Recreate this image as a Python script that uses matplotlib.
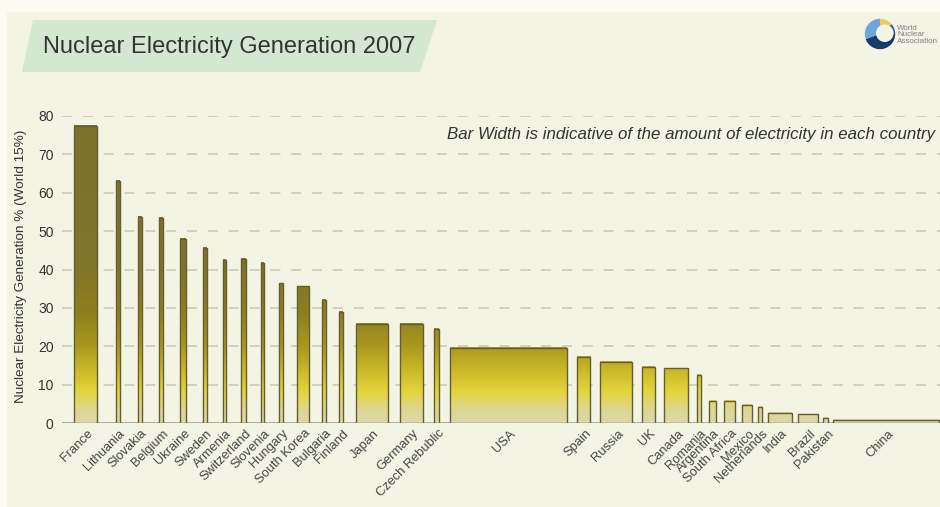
import numpy as np
import matplotlib
matplotlib.use('Agg')
import matplotlib.pyplot as plt
from matplotlib.colors import LinearSegmentedColormap, Normalize
from matplotlib.patches import Polygon, Rectangle, Wedge, Circle

plt.rcParams['font.family'] = ['Liberation Sans', 'DejaVu Sans']

# share of electricity from nuclear, 2007 (%)
countries = ['France', 'Lithuania', 'Slovakia', 'Belgium', 'Ukraine', 'Sweden',
             'Armenia', 'Switzerland', 'Slovenia', 'Hungary', 'South Korea',
             'Bulgaria', 'Finland', 'Japan', 'Germany', 'Czech Rebublic', 'USA',
             'Spain', 'Russia', 'UK', 'Canada', 'Romania', 'Argentina',
             'South Africa', 'Mexico', 'Netherlands', 'India', 'Brazil',
             'Pakistan', 'China']
nuclear_share = [77.4, 63.1, 53.6, 53.4, 47.9, 45.6, 42.5, 42.7, 41.8, 36.4,
                 35.6, 32.0, 28.9, 25.9, 25.8, 24.5, 19.7, 17.3, 16.0, 14.6,
                 14.3, 12.5, 5.8, 5.8, 4.7, 4.2, 2.7, 2.3, 1.5, 0.8]
# relative amount of electricity generated (sets bar width)
electricity = [23, 4, 4, 4, 6, 4, 3, 5, 3, 4, 12, 4, 4, 32, 23, 5, 116.6,
               13.3, 32, 12.7, 24.7, 4, 7.3, 11.6, 9.3, 4.4, 23.6, 20.7, 5,
               106.6]
y_ticks = [0, 10, 20, 30, 40, 50, 60, 70, 80]

W, H = 940, 507
fig = plt.figure(figsize=(W / 100, H / 100), dpi=100)
fig.patch.set_facecolor('#fdfaf4')

# cream panel
fig.patches.append(Rectangle((7 / W, 0), 1, 1 - 12 / H, transform=fig.transFigure,
                             facecolor='#f3f4e3', edgecolor='none', zorder=-2))

# title banner
banner = [(22, 72), (33, 20), (437, 20), (420, 72)]
fig.patches.append(Polygon([(x / W, 1 - y / H) for x, y in banner], closed=True,
                           transform=fig.transFigure, facecolor='#d4e7d1',
                           edgecolor='none', zorder=-1))
fig.text(43 / W, 1 - 47 / H, 'Nuclear Electricity Generation 2007', fontsize=17,
         color='#333333', va='center', ha='left')

# logo
lax = fig.add_axes([864 / W, 1 - 50 / H, 32 / W, 32 / H])
lax.set_xlim(-1, 1)
lax.set_ylim(-1, 1)
lax.set_aspect('equal')
lax.axis('off')
lax.add_patch(Wedge((0, 0), 0.95, 90, 200, facecolor='#6fa8d8', edgecolor='none'))
lax.add_patch(Wedge((0, 0), 0.95, 200, 360, facecolor='#163a6a', edgecolor='none'))
lax.add_patch(Wedge((0, 0), 0.95, 40, 90, facecolor='#e9cf5a', edgecolor='none'))
lax.add_patch(Wedge((0, 0), 0.95, 0, 40, facecolor='#2d5f94', edgecolor='none'))
lax.add_patch(Circle((0.3, 0.05), 0.55, facecolor='#f3f4e3', edgecolor='none'))
fig.text(897 / W, 1 - 35 / H, 'World\nNuclear\nAssociation', fontsize=5.8,
         color='#808080', va='center', ha='left', linespacing=0.95)

# main plot area
ax = fig.add_axes([62 / W, 1 - 423.3 / H, (W - 62) / W, (423.3 - 115.7) / H])
ax.set_facecolor('none')
for s in ax.spines.values():
    s.set_visible(False)

# spacing between bars narrows from left to right
widths = np.array(electricity)
gaps = np.linspace(18.5, 4.5, len(widths) - 1)
lefts = 74 + np.concatenate([[0], np.cumsum(widths[:-1] + gaps)])
centers = lefts + widths / 2

cmap = LinearSegmentedColormap.from_list('olive', [
    (0.0, '#dcd8a8'), (3 / 80, '#ddd796'), (8 / 80, '#e4d43c'),
    (13 / 80, '#cdbb2a'), (20 / 80, '#aa9720'), (28 / 80, '#8f801e'),
    (40 / 80, '#817529'), (1.0, '#7b7130')])
norm = Normalize(0, 80)

for left, w, v in zip(lefts, widths, nuclear_share):
    grad = np.linspace(0, v, 200).reshape(-1, 1)
    ax.imshow(grad, cmap=cmap, norm=norm, origin='lower', aspect='auto',
              extent=(left, left + w, 0, v), zorder=2, interpolation='bilinear')

ax.bar(lefts, nuclear_share, width=widths, align='edge', facecolor='none',
       edgecolor='#645e32', linewidth=1.0, zorder=3)

ax.set_xlim(62, W)
ax.set_ylim(0, 80)
ax.set_yticks(y_ticks)
ax.set_yticklabels([str(t) for t in y_ticks], fontsize=10, color='#333333')
ax.tick_params(axis='y', length=0, pad=6)
ax.set_xticks([])
ax.yaxis.grid(True, color='#cbcabb', linewidth=1.2, linestyle=(0, (6, 6.5)),
              zorder=0)
ax.set_axisbelow(True)
ax.axhline(0, color='#a3a396', linewidth=1.2, zorder=1)

for c, name in zip(centers, countries):
    ax.annotate(name, xy=(c, 0), xytext=(1, -3), textcoords='offset points',
                ha='right', va='top', rotation=45, rotation_mode='anchor',
                fontsize=9.3, color='#444444', annotation_clip=False)

fig.text(21 / W, 1 - 266.5 / H, 'Nuclear Electricity Generation % (World 15%)',
         rotation=90, fontsize=9.7, color='#333333', ha='center', va='center')
fig.text(935 / W, 1 - 135 / H,
         'Bar Width is indicative of the amount of electricity in each country',
         fontsize=12.2, style='italic', color='#333333', ha='right', va='center')

fig.savefig('out.png', dpi=100, facecolor=fig.get_facecolor())
